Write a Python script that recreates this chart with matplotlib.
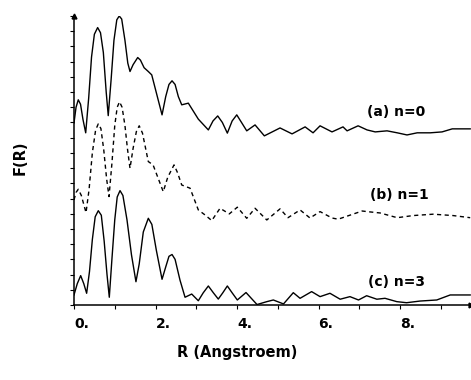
import matplotlib
matplotlib.use("Agg")
import matplotlib.pyplot as plt
from matplotlib.ticker import MultipleLocator

r_a = [0.0, 0.05, 0.105, 0.16, 0.22, 0.287, 0.36, 0.43, 0.50, 0.58, 0.65, 0.72, 0.79,
       0.84, 0.91, 0.98, 1.05, 1.11, 1.17, 1.25, 1.32, 1.374, 1.45, 1.563, 1.63, 1.72,
       1.823, 1.907, 2.16, 2.25, 2.33, 2.405, 2.48, 2.56, 2.643, 2.805, 3.05, 3.296,
       3.41, 3.526, 3.64, 3.762, 3.88, 3.993, 4.11, 4.238, 4.442, 4.67, 5.055, 5.35,
       5.67, 5.865, 6.037, 6.33, 6.60, 6.70, 6.97, 7.19, 7.39, 7.68, 7.93, 8.17, 8.42,
       8.74, 9.03, 9.28, 9.72]
f_a = [11.97, 13.0, 13.49, 13.2, 12.2, 11.32, 13.6, 16.3, 17.8, 18.24, 17.9, 16.6, 14.0,
       12.45, 14.8, 17.4, 18.75, 19.0, 18.8, 17.4, 15.9, 15.35, 15.8, 16.27, 16.1, 15.6,
       15.35, 15.13, 12.5, 13.7, 14.5, 14.74, 14.5, 13.7, 13.16, 13.27, 12.22, 11.51,
       12.1, 12.43, 12.0, 11.30, 12.1, 12.5, 12.0, 11.45, 11.84, 11.12, 11.64, 11.25,
       11.71, 11.32, 11.78, 11.38, 11.71, 11.45, 11.78, 11.51, 11.38, 11.45, 11.32,
       11.18, 11.32, 11.32, 11.38, 11.58, 11.58]

r_b = [0.0, 0.05, 0.105, 0.18, 0.295, 0.37, 0.45, 0.53, 0.596, 0.66, 0.73, 0.80, 0.859,
       0.93, 1.0, 1.06, 1.117, 1.18, 1.25, 1.31, 1.374, 1.45, 1.53, 1.60, 1.68, 1.823,
       1.94, 2.19, 2.30, 2.454, 2.54, 2.643, 2.847, 3.05, 3.215, 3.38, 3.583, 3.81,
       4.007, 4.238, 4.442, 4.73, 5.055, 5.25, 5.546, 5.79, 6.037, 6.33, 6.48, 7.07,
       7.19, 7.51, 7.93, 8.32, 8.81, 9.30, 9.72]
f_b = [6.91, 7.4, 7.61, 7.2, 6.07, 7.6, 10.0, 11.5, 11.91, 11.6, 10.2, 8.3, 7.13,
       9.3, 11.8, 13.0, 13.36, 13.0, 11.8, 10.3, 8.99, 10.3, 11.4, 11.78, 11.3, 9.43,
       9.21, 7.45, 8.4, 9.21, 8.7, 7.89, 7.68, 6.25, 5.92, 5.55, 6.36, 5.99,
       6.43, 5.70, 6.36, 5.59, 6.32, 5.74, 6.25, 5.72, 6.14, 5.72, 5.64, 6.18,
       6.14, 6.05, 5.74, 5.88, 5.97, 5.88, 5.74]

r_c = [0.0, 0.08, 0.164, 0.24, 0.31, 0.38, 0.45, 0.52, 0.596, 0.67, 0.74, 0.81, 0.866,
       0.93, 1.0, 1.06, 1.129, 1.20, 1.30, 1.41, 1.52, 1.60, 1.70, 1.823, 1.91, 2.02,
       2.16, 2.25, 2.33, 2.405, 2.48, 2.60, 2.724, 2.888, 3.05, 3.17, 3.296, 3.42,
       3.54, 3.65, 3.762, 3.88, 4.007, 4.22, 4.49, 4.73, 4.89, 5.14, 5.38, 5.546,
       5.83, 6.037, 6.28, 6.53, 6.77, 6.98, 7.18, 7.43, 7.63, 7.92, 8.16, 8.49, 8.90,
       9.23, 9.72]
f_c = [0.66, 1.4, 1.93, 1.4, 0.77, 2.2, 4.3, 5.8, 6.20, 5.9, 4.2, 2.0, 0.51,
       3.0, 5.6, 7.1, 7.52, 7.2, 5.6, 3.3, 1.53, 2.7, 4.8, 5.70, 5.3, 3.6,
       1.69, 2.5, 3.2, 3.32, 3.0, 1.64, 0.51, 0.72, 0.28, 0.8, 1.25, 0.8,
       0.39, 0.8, 1.25, 0.8, 0.33, 0.82, 0.03, 0.22, 0.33, 0.07, 0.81, 0.44,
       0.88, 0.55, 0.77, 0.38, 0.55, 0.33, 0.61, 0.38, 0.44, 0.22, 0.15, 0.26, 0.33,
       0.66, 0.66]

labels = ["(a) n=0", "(b) n=1", "(c) n=3"]
label_pos = [(7.19, 12.7), (7.26, 7.24), (7.21, 1.51)]
xtick_vals = [0, 2, 4, 6, 8]
xtick_text = ["0.", "2.", "4.", "6.", "8."]

plt.rcParams["font.family"] = "DejaVu Sans"
plt.rcParams["font.weight"] = "bold"

fig = plt.figure(figsize=(4.71, 3.8), dpi=100)
ax = fig.add_axes([74 / 471, 75 / 380, 397 / 471, 289 / 380])

ax.plot(r_a, f_a, color="black", lw=1.0)
ax.plot(r_b, f_b, color="black", lw=1.0, ls=(0, (3, 2.5)))
ax.plot(r_c, f_c, color="black", lw=1.0)

for txt, (x, y) in zip(labels, label_pos):
    ax.text(x, y, txt, fontsize=10, fontweight="bold", va="center", ha="left")

ax.set_xlim(0, 9.74)
ax.set_ylim(0, 19.0)
ax.set_xticks(xtick_vals)
ax.set_xticklabels(xtick_text, ha="left", fontsize=10, fontweight="bold")
ax.xaxis.set_minor_locator(MultipleLocator(1))
ax.yaxis.set_major_locator(MultipleLocator(1))
ax.set_yticklabels([])
ax.tick_params(axis="x", which="both", direction="out", length=3, width=0.8, pad=6)
ax.tick_params(axis="y", which="both", direction="out", length=3, width=0.8)

for s in ("top", "right"):
    ax.spines[s].set_visible(False)
for s in ("left", "bottom"):
    ax.spines[s].set_linewidth(1.1)

# arrow heads at the ends of both axes
ax.plot(0, 1, "^k", ms=3.5, transform=ax.transAxes, clip_on=False)
ax.plot(1, 0, ">k", ms=3.5, transform=ax.transAxes, clip_on=False)

fig.text(237 / 471, 1 - 352 / 380, "R (Angstroem)", ha="center", va="center",
         fontsize=10.5, fontweight="bold")
fig.text(20 / 471, 1 - 158 / 380, "F(R)", ha="center", va="center",
         rotation=90, fontsize=10.5, fontweight="bold")

fig.savefig("out.png", dpi=100)
